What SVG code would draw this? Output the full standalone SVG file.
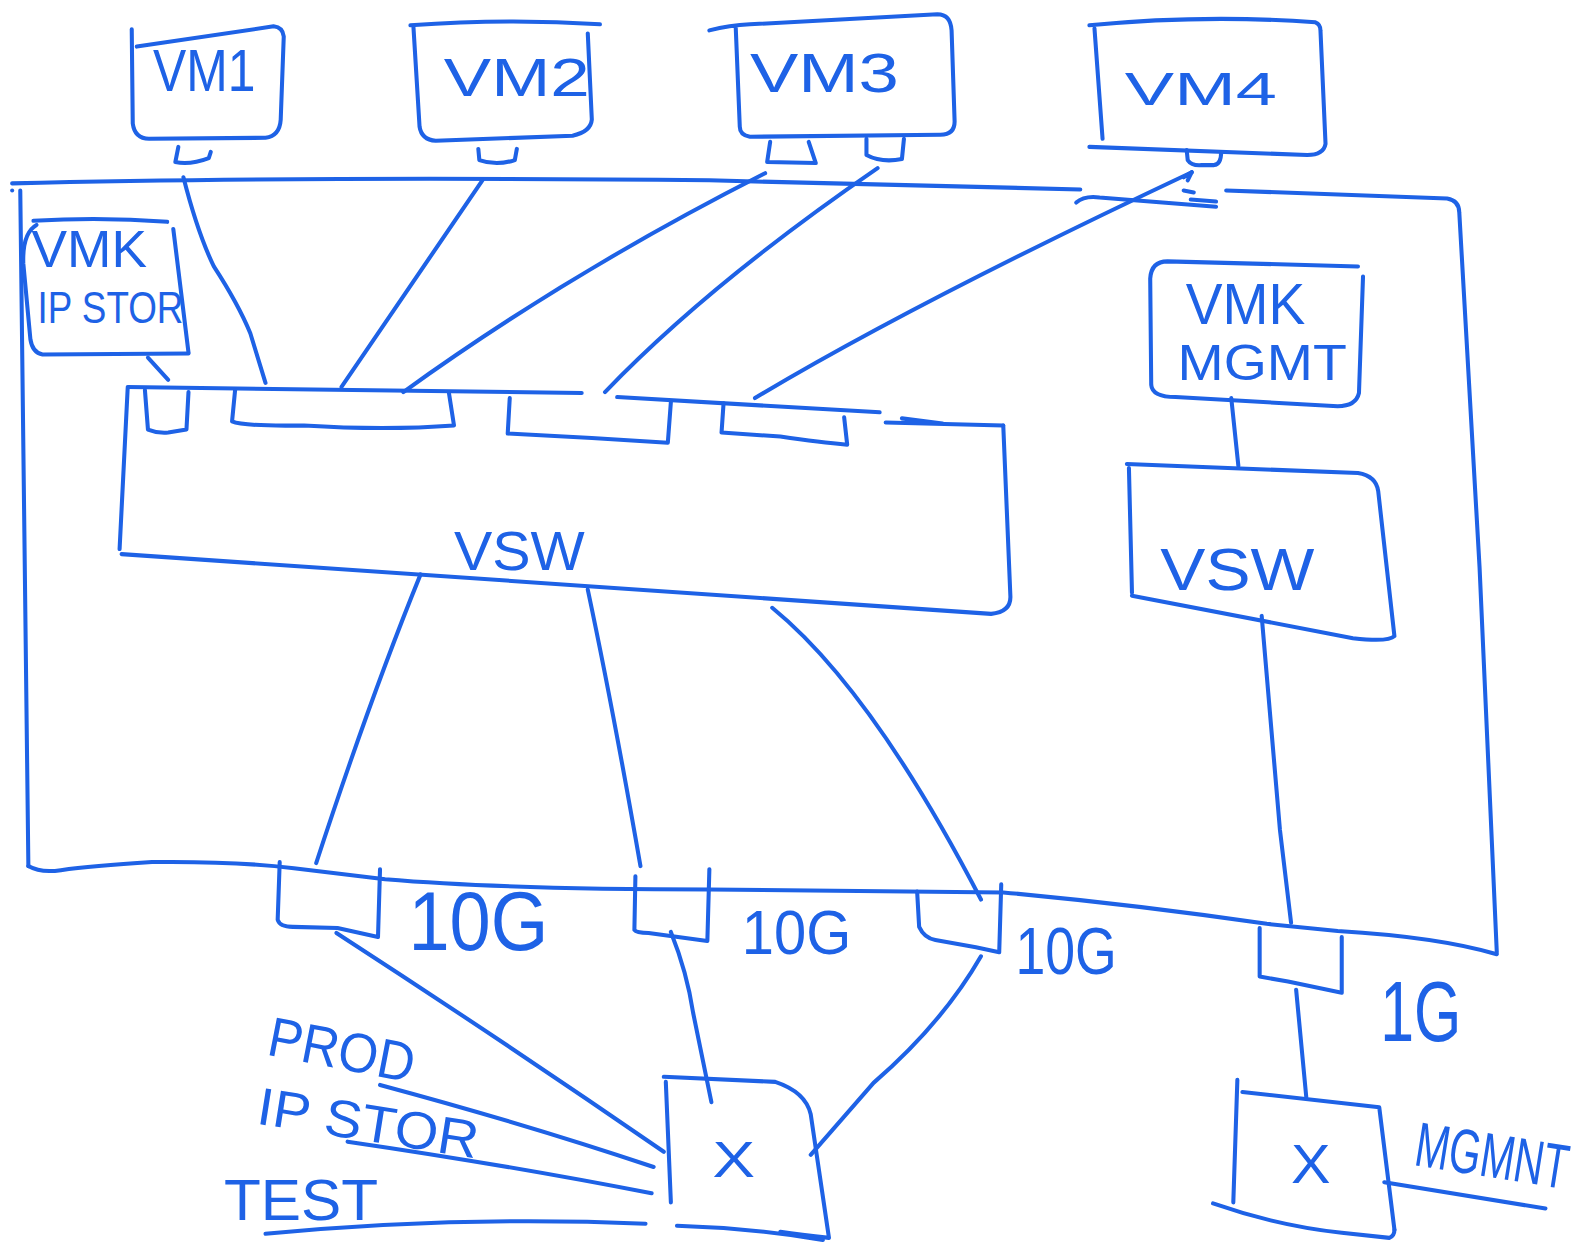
<svg xmlns="http://www.w3.org/2000/svg" width="1589" height="1245" viewBox="0 0 1589 1245">
<style>
.s{fill:none;stroke:#1e62e6;stroke-width:4;stroke-linecap:round;stroke-linejoin:round}
.t{font-family:'Liberation Sans',Arial,sans-serif;fill:#1e62e6}
</style>
<rect width="1589" height="1245" fill="#ffffff"/>
<g transform="scale(1.0134 1.013)">
<g id="host">
<path class="s" d="M12,181 Q300,174 700,178 L1066,187"/>
<path class="s" d="M1062,200 Q1070,193 1085,195 L1200,204"/>
<path class="s" d="M1168,188 L1178,190 M1175,197 L1200,199"/>
<path class="s" d="M1210,188 L1428,196 Q1440,198 1440,210 L1460,560 L1477,940"/>
<path class="s" d="M20,188 L28,855"/>
<path class="s" d="M28,855 Q40,862 60,859 Q90,855 150,851 Q230,850 290,857 L380,868 Q500,878 700,878 L990,881 Q1120,893 1250,912 L1320,919 Q1420,925 1477,942"/>
<circle cx="12" cy="188" r="2" fill="#1e62e6"/>
</g>
<g id="vm1">
<path class="s" d="M130,29 L131,122 Q133,137 147,137 L262,136 Q276,134 277,118 L280,36 Q279,27 270,26 L135,46"/>
<path class="s" d="M176,145 L173,160 Q188,163 206,156 L208,150"/>
<text class="t" x="151" y="90" font-size="58" textLength="101" lengthAdjust="spacingAndGlyphs">VM1</text>
</g>
<g id="vm2">
<path class="s" d="M405,25 Q500,18 592,24"/>
<path class="s" d="M408,27 L414,125 Q416,138 430,139 L565,134 Q583,130 584,118 L580,33"/>
<path class="s" d="M472,147 L473,158 Q490,164 508,158 L510,147"/>
<text class="t" x="438" y="95" font-size="53" textLength="144" lengthAdjust="spacingAndGlyphs">VM2</text>
</g>
<g id="vm3">
<path class="s" d="M700,30 Q720,25 740,24 L925,14 Q938,14 939,30 L942,120 Q942,133 928,133 L740,135 Q730,133 730,125 L726,27"/>
<path class="s" d="M760,140 L757,160 L805,161 L798,140"/>
<path class="s" d="M855,137 L855,153 Q870,161 890,157 L892,137"/>
<text class="t" x="740" y="91" font-size="55" textLength="147" lengthAdjust="spacingAndGlyphs">VM3</text>
</g>
<g id="vm4">
<path class="s" d="M1075,25 Q1188,14 1298,22 Q1303,24 1303,30 L1308,142 Q1306,153 1290,153 L1075,145"/>
<path class="s" d="M1080,28 L1088,137"/>
<path class="s" d="M1171,148 L1172,158 Q1176,164 1186,163 L1198,163 Q1205,162 1205,150"/>
<text class="t" x="1110" y="104" font-size="46" textLength="150" lengthAdjust="spacingAndGlyphs">VM4</text>
</g>
<g id="vmk-ipstor">
<path class="s" d="M33,218 Q100,214 165,219"/>
<path class="s" d="M171,226 L186,348"/>
<path class="s" d="M36,222 Q22,230 23,260 L30,335 Q32,348 42,350 L186,349"/>
<text class="t" x="31" y="264" font-size="52" textLength="114" lengthAdjust="spacingAndGlyphs">VMK</text>
<text class="t" x="37" y="319" font-size="44" textLength="144" lengthAdjust="spacingAndGlyphs">IP STOR</text>
</g>
<g id="vmk-mgmt">
<path class="s" d="M1340,263 L1152,258 Q1136,258 1135,275 L1136,380 Q1137,392 1160,392 L1320,401 Q1338,401 1341,388 L1345,273"/>
<text class="t" x="1170" y="320" font-size="57" textLength="118" lengthAdjust="spacingAndGlyphs">VMK</text>
<text class="t" x="1162" y="375" font-size="50" textLength="167" lengthAdjust="spacingAndGlyphs">MGMT</text>
</g>
<g id="vsw1">
<path class="s" d="M126,382 L574,388 M609,392 L868,407 M874,417 L990,420 M890,413 L930,418"/>
<path class="s" d="M990,420 L997,588 Q998,604 978,606 Q500,572 120,547"/>
<path class="s" d="M126,383 L118,542"/>
<path class="s" d="M143,385 L146,424 Q156,428 166,427 L184,424 L186,387"/>
<path class="s" d="M232,385 L229,416 Q240,421 300,420 Q380,425 448,420 L443,388"/>
<path class="s" d="M503,393 L501,428 Q580,432 659,437 L662,397"/>
<path class="s" d="M714,398 L712,427 L770,431 Q810,437 836,439 L833,412"/>
<text class="t" x="448" y="563" font-size="55" textLength="129" lengthAdjust="spacingAndGlyphs">VSW</text>
</g>
<g id="vsw2">
<path class="s" d="M1112,458 L1340,467 Q1358,470 1360,485 L1376,628 Q1370,634 1335,630 L1117,588"/>
<path class="s" d="M1114,462 L1117,585"/>
<text class="t" x="1145" y="582" font-size="58" textLength="152" lengthAdjust="spacingAndGlyphs">VSW</text>
</g>
<g id="uplink1">
<path class="s" d="M276,851 L274,908 Q276,915 289,915 L333,916 L373,925 L375,858"/>
<text class="t" x="403" y="938" font-size="82" textLength="138" lengthAdjust="spacingAndGlyphs">10G</text>
</g>
<g id="uplink2">
<path class="s" d="M627,865 L626,918 Q628,921 640,921 L698,929 L700,858"/>
<text class="t" x="732" y="942" font-size="62" textLength="108" lengthAdjust="spacingAndGlyphs">10G</text>
</g>
<g id="uplink3">
<path class="s" d="M905,880 L907,915 Q912,926 923,928 L963,935 L986,940 L988,873"/>
<text class="t" x="1002" y="962" font-size="65" textLength="100" lengthAdjust="spacingAndGlyphs">10G</text>
</g>
<g id="uplink4">
<path class="s" d="M1243,916 L1243,964 L1271,969 L1324,980 L1324,925"/>
<text class="t" x="1362" y="1028" font-size="85" textLength="80" lengthAdjust="spacingAndGlyphs">1G</text>
</g>
<g id="switch1">
<path class="s" d="M655,1063 L765,1068 Q795,1078 800,1100 L818,1222 Q790,1219 770,1216"/>
<path class="s" d="M657,1068 L662,1187"/>
<path class="s" d="M668,1210 Q740,1212 812,1224"/>
<text class="t" x="703" y="1162" font-size="50" textLength="42" lengthAdjust="spacingAndGlyphs">X</text>
</g>
<g id="switch2">
<path class="s" d="M1226,1078 L1361,1093 L1376,1214"/>
<path class="s" d="M1221,1066 L1217,1187"/>
<path class="s" d="M1197,1188 Q1260,1210 1324,1217 L1371,1222 Q1376,1220 1376,1214"/>
<text class="t" x="1274" y="1168" font-size="54" textLength="39" lengthAdjust="spacingAndGlyphs">X</text>
</g>
<g id="labels">
<text class="t" x="262" y="1041" font-size="55" textLength="146" lengthAdjust="spacingAndGlyphs" transform="rotate(11 262 1041)">PROD</text>
<text class="t" x="252" y="1109" font-size="52" textLength="220" lengthAdjust="spacingAndGlyphs" transform="rotate(9 252 1109)">IP STOR</text>
<text class="t" x="221" y="1204" font-size="57" textLength="152" lengthAdjust="spacingAndGlyphs">TEST</text>
<text class="t" x="0" y="0" font-size="62" transform="translate(1394 1150) rotate(9) scale(0.65 1)">MGMNT</text>
</g>
<g id="connectors">
<path class="s" d="M181,175 Q195,230 211,263 Q235,300 247,329 L262,378"/>
<path class="s" d="M476,178 L337,382"/>
<path class="s" d="M755,171 Q560,270 398,387"/>
<path class="s" d="M866,166 Q700,280 597,387"/>
<path class="s" d="M1176,170 L1168,175 M1176,170 L1172,178"/>
<path class="s" d="M1176,170 Q900,300 745,393"/>
<path class="s" d="M146,353 L166,375"/>
<path class="s" d="M1215,393 L1222,460"/>
<path class="s" d="M415,567 Q365,690 312,852"/>
<path class="s" d="M580,582 Q605,700 632,855"/>
<path class="s" d="M762,600 Q860,680 968,888"/>
<path class="s" d="M1245,608 L1263,819 L1274,911"/>
<path class="s" d="M332,921 Q500,1030 655,1137"/>
<path class="s" d="M662,920 Q678,960 684,1000 L702,1088"/>
<path class="s" d="M968,944 Q930,1010 862,1069 L800,1140"/>
<path class="s" d="M1279,977 L1289,1083"/>
<path class="s" d="M375,1071 Q520,1110 645,1152"/>
<path class="s" d="M343,1127 Q500,1150 643,1178"/>
<path class="s" d="M262,1218 Q450,1200 637,1208"/>
<path class="s" d="M1366,1167 L1525,1193"/>
</g>
</g>
</svg>
